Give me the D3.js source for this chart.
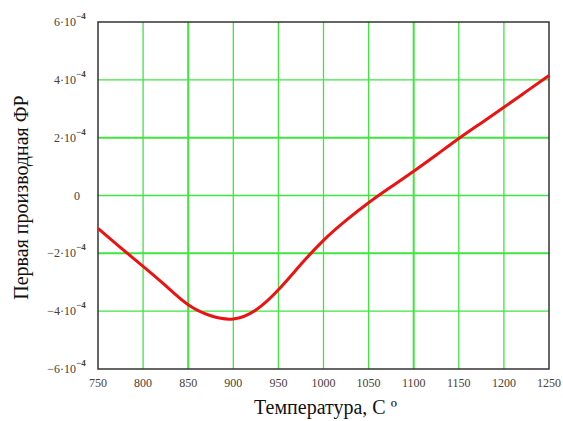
<!DOCTYPE html>
<html>
<head>
<meta charset="utf-8">
<script src="https://cdn.jsdelivr.net/npm/d3@7"></script>
<style>
  body { margin: 0; background: #fff; }
  svg { display: block; font-family: "Liberation Serif", "DejaVu Serif", serif; }
</style>
</head>
<body>
<div id="chart"></div>
<script>
// temperature, C
const temps = [750, 775, 800, 825, 850, 875, 900, 925, 950, 975, 1000, 1025, 1050, 1075, 1100, 1125, 1150, 1175, 1200, 1225, 1250];
// first derivative, units of 1e-4
const deriv = [-1.14, -1.80, -2.45, -3.12, -3.78, -4.16, -4.27, -3.96, -3.26, -2.38, -1.55, -0.86, -0.25, 0.30, 0.84, 1.40, 1.97, 2.51, 3.05, 3.60, 4.15];
const xTicks = [750, 800, 850, 900, 950, 1000, 1050, 1100, 1150, 1200, 1250];
const yTicks = [6, 4, 2, 0, -2, -4, -6];
const thickX = [850, 1100];
const thickY = [2, -2];

const width = 563, height = 421;
const margin = { top: 22, right: 14, bottom: 52, left: 98 };
const w = width - margin.left - margin.right;
const h = height - margin.top - margin.bottom;

const svg = d3.select('#chart').append('svg').attr('width', width).attr('height', height);
const g = svg.append('g').attr('transform', `translate(${margin.left},${margin.top})`);

const x = d3.scaleLinear().domain([750, 1250]).range([0, w]);
const y = d3.scaleLinear().domain([-6, 6]).range([h, 0]);

// grid
g.selectAll('line.vgrid').data(xTicks.slice(1, -1)).enter().append('line')
  .attr('x1', d => x(d)).attr('x2', d => x(d)).attr('y1', 0).attr('y2', h)
  .attr('stroke', '#3ee63e').attr('stroke-width', d => thickX.includes(d) ? 2 : 1.3);
g.selectAll('line.hgrid').data(yTicks.slice(1, -1)).enter().append('line')
  .attr('y1', d => y(d)).attr('y2', d => y(d)).attr('x1', 0).attr('x2', w)
  .attr('stroke', '#3ee63e').attr('stroke-width', d => thickY.includes(d) ? 2 : 1.3);

// frame
g.append('rect').attr('width', w).attr('height', h)
  .attr('fill', 'none').attr('stroke', '#333').attr('stroke-width', 1.5);

// curve
const pts = temps.map((t, i) => [t, deriv[i]]);
g.append('path').datum(pts)
  .attr('fill', 'none').attr('stroke', '#ee1111').attr('stroke-width', 3)
  .attr('d', d3.line().x(d => x(d[0])).y(d => y(d[1])).curve(d3.curveNatural));

// x tick labels
g.selectAll('text.xt').data(xTicks).enter().append('text')
  .attr('x', d => x(d)).attr('y', h + 18)
  .attr('text-anchor', 'middle').attr('font-size', 12).attr('fill', '#4a4038')
  .text(d => d);

// y tick labels
const yl = g.selectAll('g.yt').data(yTicks).enter().append('g')
  .attr('transform', d => `translate(-12,${y(d) + 4})`);
yl.each(function(d) {
  const s = d3.select(this);
  if (d === 0) {
    s.append('text').attr('x', -6).attr('text-anchor', 'end')
      .attr('font-size', 12).attr('fill', '#4a4038').text('0');
    return;
  }
  s.append('text').attr('x', -10).attr('text-anchor', 'end')
    .attr('font-size', 12).attr('fill', '#4a4038')
    .text((d < 0 ? '\u2212' : '') + Math.abs(d) + '\u00b710');
  s.append('text').attr('x', -10).attr('y', -7).attr('text-anchor', 'start')
    .attr('font-size', 9).attr('font-weight', 'bold').attr('fill', '#4a4038').text('\u2212' + '4');
});

// axis titles
svg.append('text').attr('x', margin.left + w / 2 + 2).attr('y', 414)
  .attr('text-anchor', 'middle').attr('font-size', 20).attr('fill', '#111')
  .text('Температура, С \u00ba');
svg.append('text')
  .attr('transform', `translate(28,${margin.top + h / 2 + 2}) rotate(-90)`)
  .attr('text-anchor', 'middle').attr('font-size', 20).attr('fill', '#111')
  .text('Первая производная ФР');
</script>
</body>
</html>
